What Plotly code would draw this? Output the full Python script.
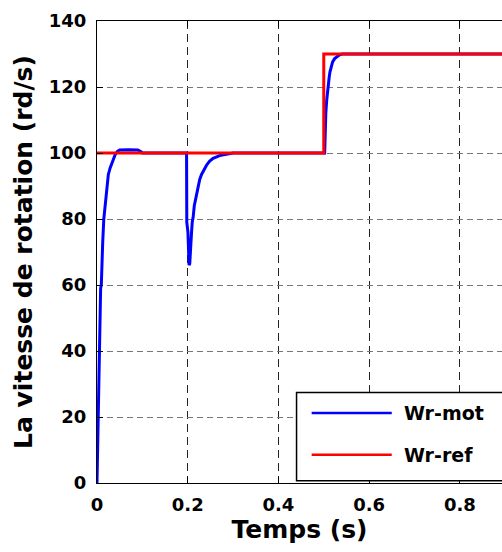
import plotly.graph_objects as go

# Simulated rotor speed response (rd/s) versus time (s)
t_mot = [0, 0.002, 0.0025, 0.005, 0.0065, 0.008, 0.0095, 0.011, 0.0126, 0.015,
         0.0165, 0.019, 0.0215, 0.024, 0.025, 0.029, 0.0325, 0.036, 0.04, 0.045,
         0.05, 0.07, 0.09, 0.098, 0.1, 0.1975, 0.198, 0.2005, 0.2015, 0.203,
         0.2045, 0.2055, 0.207, 0.2085, 0.21, 0.212, 0.2145, 0.218, 0.223, 0.2265,
         0.2305, 0.236, 0.2415, 0.248, 0.256, 0.2705, 0.285, 0.297, 0.3, 0.502,
         0.5035, 0.5045, 0.5065, 0.508, 0.51, 0.512, 0.5137, 0.5165, 0.5195, 0.524,
         0.5285, 0.534, 0.54, 1.0]
w_mot = [0, 16, 17, 40, 52, 59, 60, 70, 73, 80,
         82, 86, 89, 92, 93.5, 95.5, 97, 98.5, 99.5, 100.5,
         100.9, 101, 100.9, 100.3, 100, 100, 79, 76, 68, 66,
         66.5, 70, 75, 76, 79, 80.5, 84, 86.5, 90, 92,
         93.5, 95, 96.3, 97.5, 98.4, 99.2, 99.6, 99.9, 100, 100,
         109, 112, 116, 118.5, 121, 123, 124.6, 126.2, 127.6, 128.6,
         129.1, 129.7, 130, 130]

# Speed reference: step 100 -> 130 rd/s at t = 0.5 s
t_ref = [0, 0.5, 0.5, 1.0]
w_ref = [100, 100, 130, 130]

x_ticks = [0, 0.2, 0.4, 0.6, 0.8]
x_tick_text = ["0", "0.2", "0.4", "0.6", "0.8"]
y_ticks = [0, 20, 40, 60, 80, 100, 120, 140]

series_names = ["Wr-mot", "Wr-ref"]
series_colors = ["#0000FF", "#FF0000"]

FONT = "DejaVu Sans"

fig = go.Figure()
fig.add_trace(go.Scatter(x=t_mot, y=w_mot, mode="lines", name=series_names[0],
                         line=dict(color=series_colors[0], width=3), showlegend=False))
fig.add_trace(go.Scatter(x=t_ref, y=w_ref, mode="lines", name=series_names[1],
                         line=dict(color=series_colors[1], width=3), showlegend=False))

fig.update_layout(
    width=502, height=552,
    margin=dict(l=97, r=0, t=21, b=69),
    paper_bgcolor="white", plot_bgcolor="white",
    font=dict(family=FONT, size=18, color="black", weight="bold"),
)

fig.update_xaxes(
    range=[0, 0.893], tickvals=x_ticks, ticktext=x_tick_text,
    showline=True, linecolor="black", linewidth=1, mirror="ticks",
    ticks="inside", ticklen=6, tickcolor="black",
    showgrid=True, gridcolor="#222222", gridwidth=1, griddash="8px,5px",
    zeroline=False, ticklabelstandoff=5,
    tickfont=dict(family=FONT, size=18, weight="bold"),
    title=dict(text="Temps (s)", standoff=6,
               font=dict(family=FONT, size=25, weight="bold")),
)
fig.update_yaxes(
    range=[0, 140], tickvals=y_ticks,
    showline=True, linecolor="black", linewidth=1, mirror=False,
    ticks="inside", ticklen=6, tickcolor="black",
    showgrid=True, gridcolor="#777777", gridwidth=1, griddash="6px,4px",
    zeroline=False, ticklabelstandoff=6,
    tickfont=dict(family=FONT, size=18, weight="bold"),
    title=dict(text="La vitesse de rotation (rd/s)", standoff=9,
               font=dict(family=FONT, size=25, weight="bold")),
)

# Legend box in the lower-right corner of the axes
box_x0, box_x1, box_y0, box_y1 = 0.4927, 1.05, 0.005, 0.1960
fig.add_shape(type="rect", xref="paper", yref="paper",
              x0=box_x0, x1=box_x1, y0=box_y0, y1=box_y1,
              line=dict(color="black", width=1.5), fillcolor="white", layer="above")
entry_y = [0.1517, 0.0610]
for name, color, yy in zip(series_names, series_colors, entry_y):
    fig.add_shape(type="line", xref="paper", yref="paper",
                  x0=0.530, x1=0.7278, y0=yy, y1=yy,
                  line=dict(color=color, width=2.5), layer="above")
    fig.add_annotation(xref="paper", yref="paper", x=0.7520, y=yy,
                       text=name, showarrow=False, xanchor="left", yanchor="middle",
                       font=dict(family=FONT, size=19, weight="bold", color="black"))

fig.write_html("out.html")
